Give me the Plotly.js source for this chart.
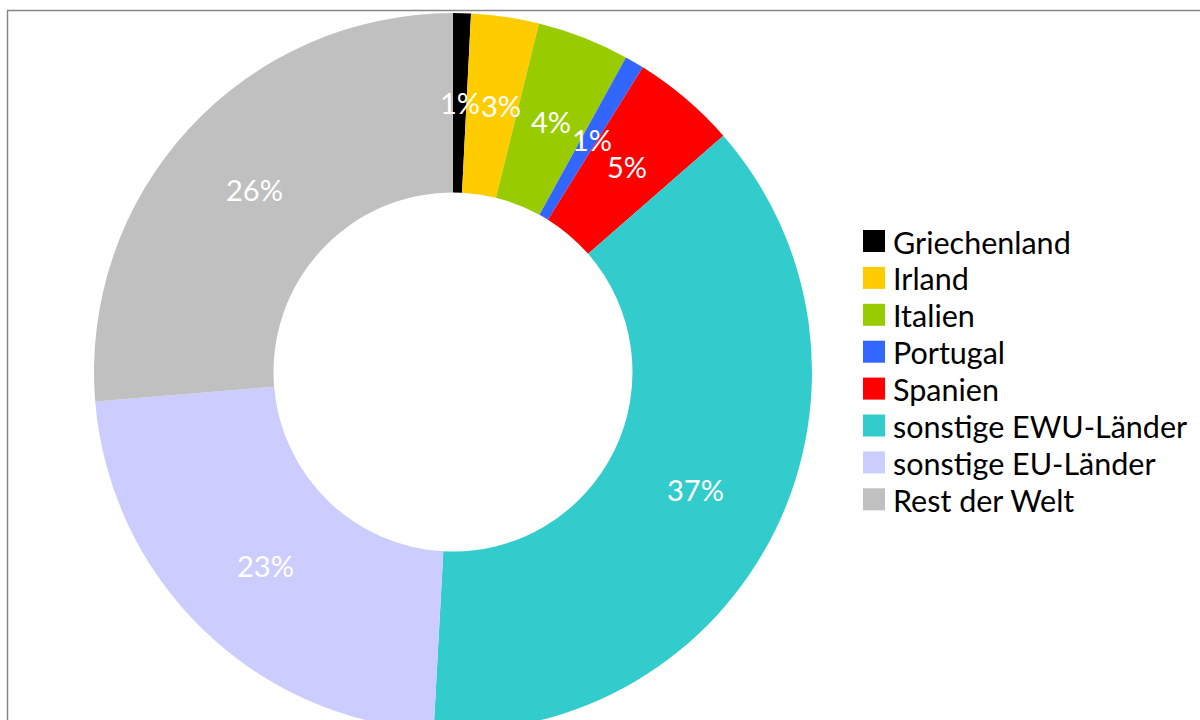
<!DOCTYPE html>
<html>
<head>
<meta charset="utf-8">
<script src="https://cdn.plot.ly/plotly-3.0.1.min.js"></script>
<style>
html, body { margin: 0; padding: 0; overflow: hidden; background: #fff; }
#chart { width: 1200px; height: 744px; }
</style>
</head>
<body>
<div id="chart"></div>
<script>
const categories = ["Griechenland", "Irland", "Italien", "Portugal", "Spanien", "sonstige EWU-Länder", "sonstige EU-Länder", "Rest der Welt"];
const shares = [0.8, 3.05, 4.15, 0.87, 4.7, 37.3, 22.84, 26.31];
const colors = ["#000000", "#FFCC00", "#99CC00", "#3366FF", "#FF0000", "#33CCCC", "#CCCCFF", "#C0C0C0"];

const W = 1200, H = 744;
const cx = 453, cy = 372, R = 359, HOLE = 0.5;
const FONT = "Lato, 'Open Sans', sans-serif";
const LABEL_SIZE = 29;

const trace = {
  type: "pie",
  labels: categories,
  values: shares,
  sort: false,
  direction: "clockwise",
  rotation: 0,
  hole: HOLE,
  marker: { colors: colors, line: { width: 0 } },
  textinfo: "none",
  textposition: "none",
  domain: { x: [(cx - R) / W, (cx + R) / W], y: [(H - cy - R) / H, (H - cy + R) / H] },
  hoverinfo: "label+percent",
  showlegend: false
};

// text width helper
const ctx = document.createElement("canvas").getContext("2d");
ctx.font = LABEL_SIZE + "px Lato";
function textW(t) { return ctx.measureText(t).width; }

// percent labels, placed at the middle of the ring, at each slice's mid angle;
// a label that would collide with the previous one is pushed to the right
const total = shares.reduce((a, b) => a + b, 0);
const annotations = [];
let cum = 0;
const rMid = R * (1 + HOLE) / 2;
const glyphH = 24;
let prev = null;
shares.forEach(function (v) {
  const mid = (cum + v / 2) / total;
  cum += v;
  const th = 2 * Math.PI * mid;
  let px = cx + rMid * Math.sin(th);
  const py = cy - rMid * Math.cos(th);
  const txt = Math.round(v / total * 100) + "%";
  const w = textW(txt);
  if (prev && Math.abs(py - prev.y) < glyphH) {
    const need = (w + prev.w) / 2 + 1;
    if (px - prev.x < need) px = prev.x + need;
  }
  prev = { x: px, y: py, w: w };
  annotations.push({
    xref: "paper", yref: "paper",
    x: px / W, y: 1 - py / H,
    xanchor: "center", yanchor: "middle",
    text: txt,
    showarrow: false,
    font: { family: FONT, size: LABEL_SIZE, color: "#ffffff" }
  });
});

// legend: one coloured square and one label per category
const shapes = [{
  type: "rect", xref: "paper", yref: "paper",
  x0: 7.5 / W, x1: 1.02, y0: -0.02, y1: 1 - 10.5 / H,
  line: { color: "#868686", width: 1.5 }, fillcolor: "rgba(0,0,0,0)"
}];
const legX = 863, legY0 = 241, legStep = 36.9, sq = 22;
categories.forEach(function (c, i) {
  const yc = legY0 + i * legStep;
  shapes.push({
    type: "rect", xref: "paper", yref: "paper",
    x0: legX / W, x1: (legX + sq) / W,
    y0: 1 - (yc + sq / 2) / H, y1: 1 - (yc - sq / 2) / H,
    line: { width: 0 }, fillcolor: colors[i]
  });
  annotations.push({
    xref: "paper", yref: "paper",
    x: (legX + sq + 6) / W, y: 1 - (yc + 0.5) / H,
    xanchor: "left", yanchor: "middle",
    text: c, showarrow: false,
    font: { family: FONT, size: 30.5, color: "#000000" }
  });
});

const layout = {
  width: W,
  height: H,
  margin: { l: 0, r: 0, t: 0, b: 0 },
  paper_bgcolor: "#ffffff",
  showlegend: false,
  shapes: shapes,
  annotations: annotations
};

Plotly.newPlot("chart", [trace], layout, { displayModeBar: false, staticPlot: true });
</script>
</body>
</html>
